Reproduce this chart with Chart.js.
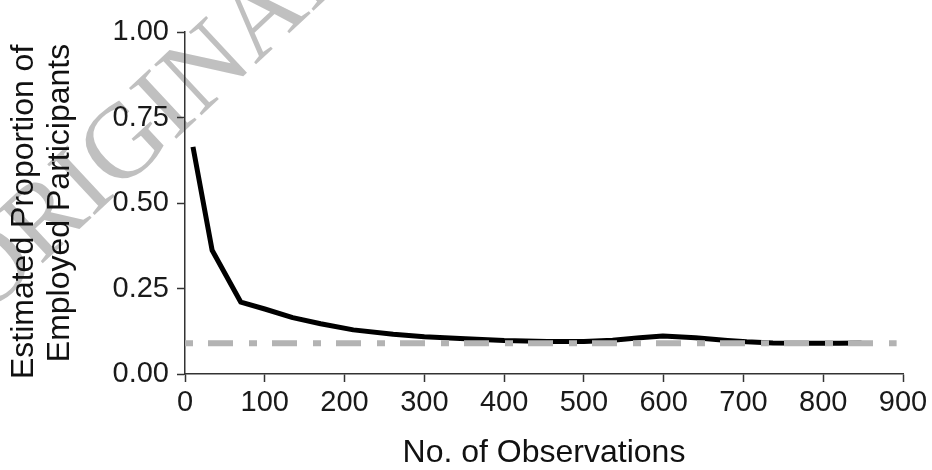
<!DOCTYPE html>
<html>
<head>
<meta charset="utf-8">
<script src="https://cdn.jsdelivr.net/npm/chart.js@4"></script>
<style>
  html, body { margin: 0; padding: 0; background: #fff; }
  #wrap { width: 932px; height: 470px; }
</style>
</head>
<body>
<div id="wrap"><canvas id="chart" width="932" height="470"></canvas></div>
<script>
// estimated proportion vs number of observations
const obsCounts = [10, 34, 70, 100, 135, 170, 211, 261, 300, 345, 400, 454, 500, 536, 570, 599, 640, 680, 704, 737, 780, 820, 848];
const estProportion = [0.664, 0.362, 0.21, 0.19, 0.165, 0.147, 0.129, 0.116, 0.109, 0.104, 0.098, 0.095, 0.095, 0.099, 0.106, 0.111, 0.106, 0.098, 0.094, 0.091, 0.090, 0.090, 0.091];

// true proportion (dash-dot reference)
const refX = [0, 892];
const refY = [0.09, 0.09];

const xTicks = [0, 100, 200, 300, 400, 500, 600, 700, 800, 900];
const yTicks = [0, 0.25, 0.5, 0.75, 1];

const axisFont = { family: "'Liberation Sans', Arial, sans-serif", size: 29 };
const titleFont = { family: "'Liberation Sans', Arial, sans-serif", size: 32 };

const watermark = {
    id: 'watermark',
    beforeDraw(chart) {
        const ctx = chart.ctx;
        ctx.save();
        ctx.translate(-16, 318);
        ctx.rotate(-43 * Math.PI / 180);
        ctx.font = "106px 'Liberation Serif', 'Times New Roman', serif";
        ctx.fillStyle = 'rgba(150,150,150,0.6)';
        ctx.textBaseline = 'alphabetic';
        ctx.fillText('ORIGINAL', 0, 0);
        ctx.restore();
    }
};

new Chart(document.getElementById('chart'), {
    type: 'line',
    data: {
        datasets: [{
            label: 'true',
            data: refX.map((x, i) => ({ x: x, y: refY[i] })),
            borderColor: '#b3b3b3',
            borderWidth: 6,
            borderDash: [8, 15, 25, 16],
            pointRadius: 0,
            fill: false
        }, {
            label: 'estimate',
            data: obsCounts.map((x, i) => ({ x: x, y: estProportion[i] })),
            borderColor: '#000',
            borderWidth: 5,
            borderJoinStyle: 'round',
            pointRadius: 0,
            tension: 0,
            fill: false
        }]
    },
    options: {
        responsive: false,
        animation: false,
        layout: { padding: { left: 0, top: 32, right: 29, bottom: 0 } },
        plugins: {
            legend: { display: false },
            tooltip: { enabled: false }
        },
        scales: {
            x: {
                type: 'linear',
                min: 0,
                max: 900,
                afterFit: function(scale) { scale.height = 96; },
                afterBuildTicks: function(scale) { scale.ticks = xTicks.map(v => ({ value: v })); },
                grid: { drawOnChartArea: false, drawTicks: true, tickLength: 8, tickColor: '#333', tickWidth: 1.5 },
                border: { color: '#333', width: 1.5 },
                ticks: { color: '#1a1a1a', font: axisFont, padding: 4, maxRotation: 0 },
                title: {
                    display: true,
                    text: 'No. of Observations',
                    color: '#111',
                    font: Object.assign({ lineHeight: 1.0625 }, titleFont),
                    padding: { top: 0, bottom: 0 }
                }
            },
            y: {
                min: 0,
                max: 1,
                afterFit: function(scale) { scale.width = 185; },
                afterBuildTicks: function(scale) { scale.ticks = yTicks.map(v => ({ value: v })); },
                grid: { drawOnChartArea: false, drawTicks: true, tickLength: 8, tickColor: '#333', tickWidth: 1.5 },
                border: { color: '#333', width: 1.5 },
                ticks: {
                    color: '#1a1a1a',
                    font: axisFont,
                    padding: 8,
                    callback: v => v.toFixed(2)
                },
                title: {
                    display: true,
                    text: ['Estimated Proportion of  ', 'Employed Participants'],
                    color: '#111',
                    font: Object.assign({ lineHeight: 1.125 }, titleFont),
                    padding: { top: 6, bottom: 0 }
                }
            }
        }
    },
    plugins: [watermark]
});
</script>
</body>
</html>
